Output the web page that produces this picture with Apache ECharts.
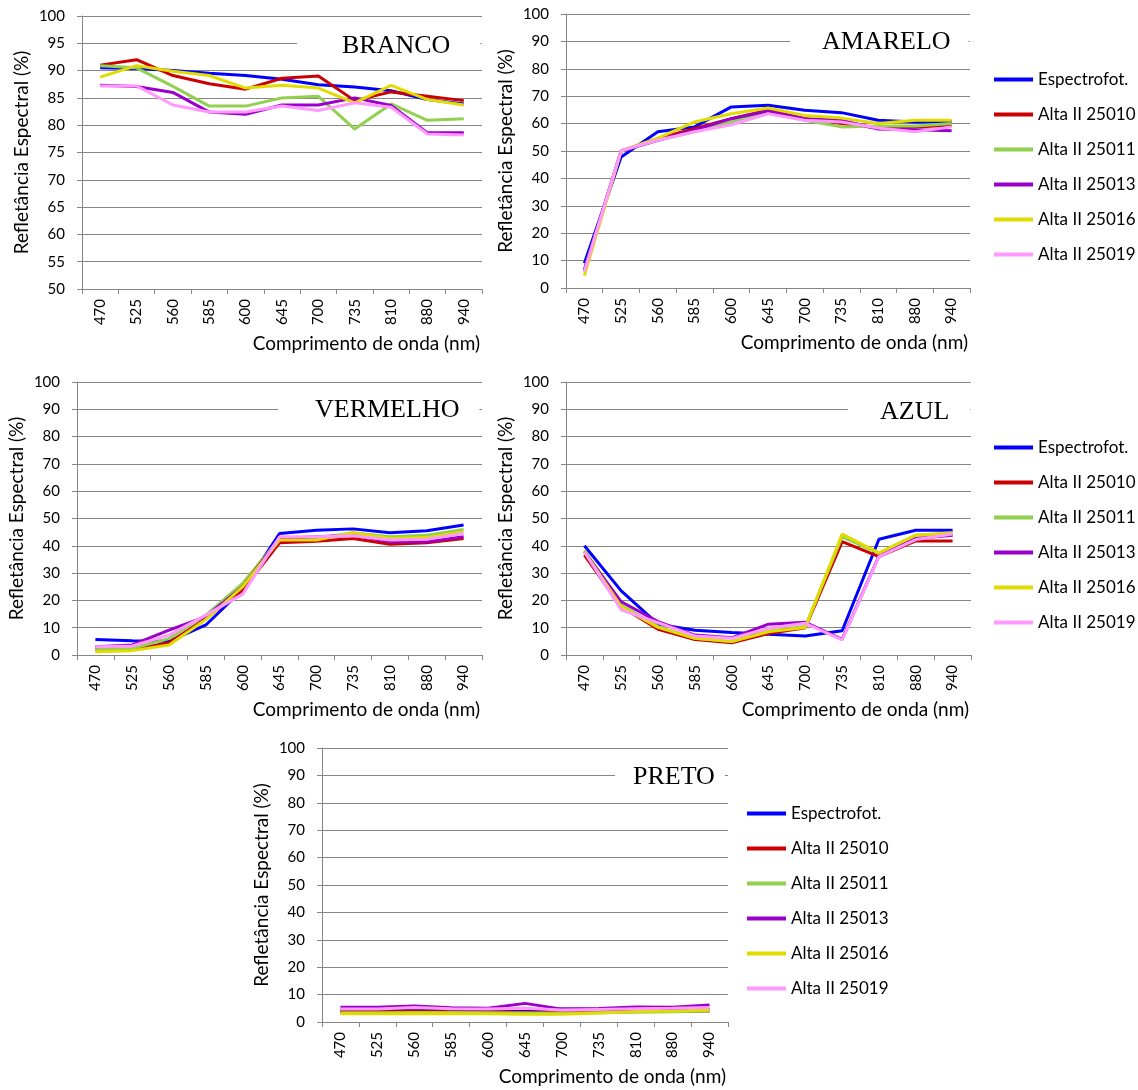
<!DOCTYPE html>
<html>
<head>
<meta charset="utf-8">
<title>Refletância Espectral</title>
<script src="https://cdn.jsdelivr.net/npm/echarts@6/dist/echarts.min.js"></script>
<style>
  html, body { margin: 0; padding: 0; background: #fff; }
  #chart { width: 1138px; height: 1090px; }
</style>
</head>
<body>
<div id="chart"></div>
<script>
// comprimentos de onda (eixo x)
const wavelengths = ['470', '525', '560', '585', '600', '645', '700', '735', '810', '880', '940']
const seriesNames = ['Espectrofot.', 'Alta II 25010', 'Alta II 25011', 'Alta II 25013', 'Alta II 25016', 'Alta II 25019']
const seriesColors = ['#0000FF', '#CC0000', '#92D050', '#9900CC', '#E0DC00', '#FF99FF']

// uma linha por sensor, na ordem de seriesNames
const branco = [
  [90.5, 90.4, 90.0, 89.5, 89.1, 88.4, 87.4, 87.0, 86.3, 84.7, 83.9],
  [91.0, 92.0, 89.1, 87.6, 86.6, 88.6, 89.0, 84.5, 86.1, 85.3, 84.5],
  [90.9, 90.5, 87.1, 83.5, 83.5, 85.0, 85.3, 79.3, 83.9, 80.9, 81.2],
  [87.3, 87.1, 86.0, 82.4, 82.0, 83.7, 83.7, 85.0, 83.6, 78.6, 78.6],
  [88.8, 90.9, 89.9, 89.1, 86.8, 87.3, 86.8, 84.1, 87.3, 84.7, 83.7],
  [87.2, 87.2, 83.7, 82.4, 82.4, 83.5, 82.7, 84.1, 83.3, 78.4, 78.2]
]
const amarelo = [
  [9.0, 47.8, 57.0, 58.8, 66.1, 66.7, 64.9, 64.0, 61.2, 60.6, 60.8],
  [6.0, 50.0, 54.5, 58.2, 61.8, 64.9, 61.8, 60.0, 58.4, 58.8, 59.4],
  [6.6, 50.0, 53.9, 57.0, 60.6, 64.3, 61.2, 58.8, 59.1, 59.1, 60.0],
  [6.6, 50.0, 53.9, 57.6, 61.8, 64.6, 61.8, 61.2, 58.0, 57.8, 57.4],
  [4.5, 50.0, 54.7, 60.6, 63.6, 65.7, 63.0, 62.0, 60.0, 61.2, 61.2],
  [6.0, 50.2, 53.9, 57.0, 59.6, 63.6, 61.2, 60.6, 58.4, 57.0, 58.8]
]
const vermelho = [
  [5.7, 5.2, 5.0, 11.0, 24.0, 44.5, 45.7, 46.2, 44.8, 45.5, 47.6],
  [1.8, 2.0, 4.5, 13.4, 23.8, 41.1, 41.7, 42.7, 40.6, 41.1, 42.7],
  [2.0, 2.4, 6.0, 14.6, 26.2, 42.7, 42.7, 44.8, 43.3, 43.9, 46.0],
  [3.0, 3.7, 9.1, 14.0, 25.0, 42.7, 43.3, 43.9, 41.5, 41.5, 43.3],
  [1.2, 1.6, 3.7, 13.0, 25.0, 42.1, 42.1, 44.8, 42.7, 43.0, 45.1],
  [3.0, 3.3, 7.3, 14.6, 22.3, 43.3, 43.3, 43.7, 42.1, 42.4, 44.5]
]
const azul = [
  [40.0, 23.5, 11.3, 9.1, 8.2, 7.6, 7.0, 8.9, 42.4, 45.7, 45.7],
  [36.6, 17.7, 9.4, 5.7, 4.5, 7.9, 10.0, 41.5, 36.0, 41.8, 41.8],
  [38.4, 18.3, 10.4, 6.1, 4.9, 8.8, 10.4, 43.3, 37.2, 43.9, 44.5],
  [37.8, 19.5, 12.2, 7.3, 6.3, 11.3, 12.0, 5.7, 36.2, 42.7, 43.9],
  [37.8, 17.7, 10.1, 6.1, 4.9, 8.5, 10.1, 44.3, 37.4, 43.9, 44.8],
  [37.8, 16.5, 11.8, 7.0, 6.1, 9.8, 11.6, 5.5, 36.0, 42.3, 44.3]
]
const preto = [
  [4.1, 4.1, 4.6, 4.2, 4.2, 4.4, 4.7, 4.6, 4.5, 4.6, 4.6],
  [3.8, 3.8, 4.0, 3.8, 3.7, 3.6, 3.4, 3.6, 3.9, 3.8, 4.0],
  [3.4, 3.4, 3.5, 3.5, 3.4, 3.3, 3.2, 3.4, 3.6, 3.7, 4.0],
  [5.4, 5.4, 5.8, 5.2, 5.0, 6.8, 4.7, 4.9, 5.5, 5.4, 6.2],
  [3.0, 3.0, 3.0, 3.0, 3.0, 2.8, 2.8, 3.3, 3.8, 4.0, 4.4],
  [4.7, 4.7, 5.3, 4.8, 4.7, 5.0, 4.4, 4.6, 4.8, 5.0, 5.3]
]

const panelTitles = ['BRANCO', 'AMARELO', 'VERMELHO', 'AZUL', 'PRETO']
const panelData = [branco, amarelo, vermelho, azul, preto]

// layout de cada painel (px)
const panels = [
  { left: 82, top: 16, width: 400, height: 273, min: 50, interval: 5, tLeft: 297, tTop: 26, pad: [7, 30, 7, 45] },
  { left: 566, top: 14, width: 404, height: 274, min: 0, interval: 10, tLeft: 790, tTop: 22, pad: [7, 18, 7, 32] },
  { left: 77, top: 382, width: 405, height: 273, min: 0, interval: 10, tLeft: 278, tTop: 390, pad: [7, 20, 7, 37] },
  { left: 566, top: 382, width: 405, height: 273, min: 0, interval: 10, tLeft: 848, tTop: 392, pad: [7, 21, 7, 32] },
  { left: 322, top: 748, width: 406, height: 274, min: 0, interval: 10, tLeft: 615, tTop: 757, pad: [7, 10, 7, 18] }
]
const legendPos = [[989, 66], [989, 434], [742, 800]]

const labelFont = 'Lato, "Open Sans", sans-serif'
const axisGray = '#868686'

const chart = echarts.init(document.getElementById('chart'))

const grid = []
const xAxis = []
const yAxis = []
const title = []
const series = []

panels.forEach((p, i) => {
  grid.push({ left: p.left, top: p.top, width: p.width, height: p.height })
  xAxis.push({
    gridIndex: i,
    type: 'category',
    data: wavelengths,
    boundaryGap: true,
    name: 'Comprimento de onda (nm)',
    nameLocation: 'end',
    nameGap: -2,
    nameTextStyle: {
      fontFamily: labelFont, fontSize: 19, color: '#000',
      align: 'right', verticalAlign: 'top', padding: [45, 0, 0, 0]
    },
    axisLine: { lineStyle: { color: axisGray, width: 1 } },
    axisTick: { show: true, length: 5, lineStyle: { color: axisGray } },
    axisLabel: { interval: 0, rotate: 90, margin: 10, fontFamily: labelFont, fontSize: 15, color: '#000' },
    splitLine: { show: false }
  })
  yAxis.push({
    gridIndex: i,
    type: 'value',
    min: p.min,
    max: 100,
    interval: p.interval,
    name: 'Refletância Espectral (%)',
    nameLocation: 'middle',
    nameGap: 51,
    nameTextStyle: { fontFamily: labelFont, fontSize: 19, color: '#000' },
    axisLine: { show: true, lineStyle: { color: axisGray, width: 1 } },
    axisTick: { show: true, length: 5, lineStyle: { color: axisGray } },
    axisLabel: { margin: 17, fontFamily: labelFont, fontSize: 15, color: '#000' },
    splitLine: { lineStyle: { color: axisGray, width: 1 } }
  })
  title.push({
    text: panelTitles[i],
    left: p.tLeft,
    top: p.tTop,
    padding: p.pad,
    backgroundColor: '#fff',
    textStyle: { fontFamily: '"Liberation Serif", "DejaVu Serif", serif', fontSize: 26, fontWeight: 'normal', color: '#000' }
  })
  panelData[i].forEach((vals, k) => {
    series.push({
      name: seriesNames[k],
      type: 'line',
      xAxisIndex: i,
      yAxisIndex: i,
      data: vals,
      showSymbol: false,
      symbol: 'none',
      animation: false,
      lineStyle: { width: 3, color: seriesColors[k] },
      itemStyle: { color: seriesColors[k] }
    })
  })
})

const legend = legendPos.map(pos => ({
  orient: 'vertical',
  left: pos[0],
  top: pos[1],
  data: seriesNames,
  icon: 'rect',
  itemWidth: 39,
  itemHeight: 4,
  itemGap: 18,
  textStyle: { fontFamily: labelFont, fontSize: 17, color: '#000' }
}))

chart.setOption({
  backgroundColor: '#fff',
  animation: false,
  title: title,
  legend: legend,
  grid: grid,
  xAxis: xAxis,
  yAxis: yAxis,
  series: series
})

window.addEventListener('resize', () => chart.resize())
</script>
</body>
</html>
